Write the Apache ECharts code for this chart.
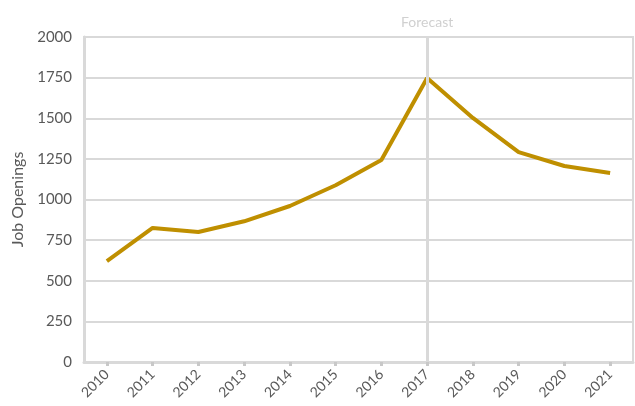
<!DOCTYPE html>
<html>
<head>
<meta charset="utf-8">
<script src="https://cdn.jsdelivr.net/npm/echarts@6/dist/echarts.min.js"></script>
<style>
  html, body { margin: 0; padding: 0; background: #fff; }
  #chart { width: 635px; height: 406px; }
</style>
</head>
<body>
<div id="chart"></div>
<script>
var years = ['2010', '2011', '2012', '2013', '2014', '2015', '2016', '2017', '2018', '2019', '2020', '2021'];
var openings = [621, 825, 800, 866, 960, 1088, 1243, 1748, 1502, 1292, 1206, 1163];
var forecastYear = '2017';

var chart = echarts.init(document.getElementById('chart'));
var option = {
    backgroundColor: '#fff',
    textStyle: { fontFamily: 'Lato' },
    grid: {
        left: 84,
        right: 2,
        top: 37,
        bottom: 44,
        show: true,
        borderColor: '#d9d9d9',
        borderWidth: 2
    },
    xAxis: {
        type: 'category',
        data: years,
        boundaryGap: true,
        axisLine: { lineStyle: { color: '#d9d9d9', width: 3 } },
        axisTick: {
            show: true,
            alignWithLabel: true,
            length: 4,
            lineStyle: { color: '#c8c8c8', width: 3 }
        },
        axisLabel: {
            rotate: 45,
            color: '#595959',
            fontSize: 14,
            margin: 10
        }
    },
    yAxis: {
        type: 'value',
        min: 0,
        max: 2000,
        interval: 250,
        name: 'Job Openings',
        nameLocation: 'middle',
        nameGap: 54,
        nameTextStyle: { color: '#595959', fontSize: 16 },
        axisLine: { show: true, lineStyle: { color: '#d9d9d9', width: 3 } },
        axisTick: { show: false },
        axisLabel: {
            color: '#595959',
            fontSize: 15,
            margin: 12,
            formatter: function (v) { return String(v); }
        },
        splitLine: { lineStyle: { color: '#d9d9d9', width: 2 } }
    },
    series: [{
        type: 'line',
        data: openings,
        symbol: 'none',
        lineStyle: { color: '#BF8F00', width: 4 },
        itemStyle: { color: '#BF8F00' },
        markLine: {
            silent: true,
            symbol: 'none',
            lineStyle: { color: '#d9d9d9', width: 3, type: 'solid' },
            label: {
                show: true,
                position: 'end',
                formatter: 'Forecast',
                color: '#d0d0d0',
                fontSize: 14,
                distance: 8
            },
            data: [{ xAxis: forecastYear }]
        }
    }]
};
chart.setOption(option);
</script>
</body>
</html>
